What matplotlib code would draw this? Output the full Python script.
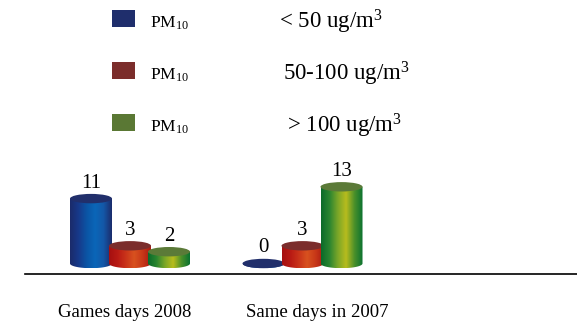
import numpy as np
import matplotlib
matplotlib.use('Agg')
import matplotlib.pyplot as plt
from matplotlib.colors import LinearSegmentedColormap
from matplotlib.patches import Ellipse, PathPatch, Rectangle
from matplotlib.path import Path

plt.rcParams['font.family'] = 'Liberation Serif'
plt.rcParams['mathtext.fontset'] = 'custom'
plt.rcParams['mathtext.rm'] = 'Liberation Serif'
plt.rcParams['mathtext.it'] = 'Liberation Serif:italic'

# data
groups = ['Games days 2008', 'Same days in 2007']
ranges = ['< 50 ug/m$^3$', '50-100 ug/m$^3$', '> 100 ug/m$^3$']
pm_below_50 = [11, 0]
pm_50_100 = [3, 3]
pm_above_100 = [2, 13]
series = [pm_below_50, pm_50_100, pm_above_100]

# colours: body gradient (left -> right), top cap, legend box
body_colors = [
    ['#1b2b6a', '#17398a', '#0b55a5', '#0a66b8', '#1458a8', '#1b2c6c'],
    ['#a50f10', '#b81a14', '#c9331a', '#d8521f', '#c83818', '#a81a12'],
    ['#0b6a2a', '#2a8530', '#7aa628', '#b8bc1e', '#4a902a', '#0a7230'],
]
top_colors = ['#212f6b', '#7b2d2c', '#5b7a38']
legend_colors = ['#1f2e6c', '#7b2d2b', '#5a7834']

W, H = 577, 324
fig = plt.figure(figsize=(W / 100, H / 100), dpi=100)
ax = fig.add_axes([0, 0, 1, 1])

# layout in pixels
gx0, gstep = 130, 172.5       # group centre px, distance between groups
base_px, unit_px = 263.5, 5.9  # y of value 0, px per unit
bar_w = 42 / gstep
bar_step = 39 / gstep
ell = 4.7 / unit_px

def px(x, y):
    return x / W, 1 - y / H

for i, vals in enumerate(series):
    cmap = LinearSegmentedColormap.from_list('c%d' % i, body_colors[i])
    grad = np.linspace(0, 1, 200).reshape(1, -1)
    for g, v in enumerate(vals):
        xc = g + (i - 1) * bar_step
        x0, x1 = xc - bar_w / 2, xc + bar_w / 2
        t = np.linspace(np.pi, 2 * np.pi, 60)
        verts = [(x0, v), (x0, 0)]
        verts += list(zip(xc + bar_w / 2 * np.cos(t), ell * np.sin(t)))
        verts += [(x1, v), (x0, v)]
        codes = [Path.MOVETO] + [Path.LINETO] * (len(verts) - 2) + [Path.CLOSEPOLY]
        clip = PathPatch(Path(verts, codes), facecolor='none', edgecolor='none')
        ax.add_patch(clip)
        im = ax.imshow(grad, cmap=cmap, extent=[x0, x1, -ell, v], aspect='auto',
                       interpolation='bilinear', origin='lower', zorder=2 + i)
        im.set_clip_path(clip)
        ax.add_patch(Ellipse((xc, v), bar_w, 2 * ell, facecolor=top_colors[i],
                             edgecolor='none', zorder=2 + i))
        ax.text(xc, v + 11 / unit_px, str(v), ha='center', va='baseline',
                fontsize=15, zorder=10)

# baseline
ax.plot([(25 - gx0) / gstep, (W - gx0) / gstep], [-10.5 / unit_px] * 2,
        color='black', lw=1.2)

ax.set_xlim(-gx0 / gstep, (W - gx0) / gstep)
ax.set_ylim((base_px - H) / unit_px, base_px / unit_px)
ax.axis('off')

# legend
rows_y = [28, 80, 132]
text_x = [279, 283, 287]
for i in range(3):
    x, y = px(112, rows_y[i] - 18)
    fig.patches.append(Rectangle((x, y - 17 / H), 23 / W, 17 / H,
                                 transform=fig.transFigure, facecolor=legend_colors[i],
                                 edgecolor='none'))
    fig.text(*px(150, rows_y[i]), 'PM$_\\mathrm{10}$', fontsize=12.5, va='baseline')
    fig.text(*px(text_x[i], rows_y[i]), ranges[i], fontsize=16.5, va='baseline')

# category labels
label_x = [125, 317.5]
for g, name in enumerate(groups):
    fig.text(*px(label_x[g], 317), name, fontsize=13.5, ha='center', va='baseline')

fig.savefig('out.png', dpi=100)
